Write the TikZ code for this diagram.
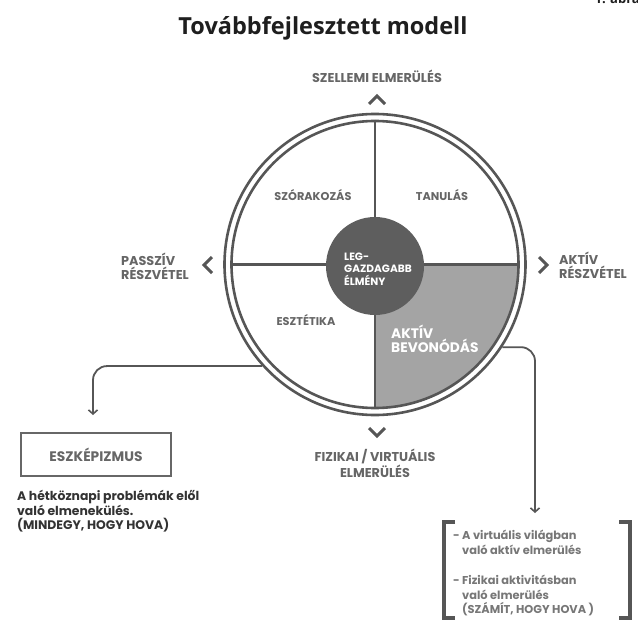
\documentclass[tikz,border=0pt]{standalone}
\usepackage{fontspec}
\setmainfont{Poppins}
\newfontfamily\titlefont{Open Sans}
\usetikzlibrary{arrows.meta}
\definecolor{lineg}{HTML}{565656}
\definecolor{labg}{HTML}{666666}
\definecolor{quadg}{HTML}{A4A4A4}
\definecolor{coreg}{HTML}{5E5E5E}
\definecolor{darkt}{HTML}{333333}
\definecolor{listg}{HTML}{777777}
\definecolor{titlec}{HTML}{1E1E1E}
\tikzset{
  ringline/.style={circle, draw=lineg, line width=2.6pt, inner sep=0pt},
  divline/.style={draw=lineg, line width=2.2pt},
  chev/.style={draw=lineg, line width=3pt, line join=miter},
  conn/.style={draw=lineg, line width=1.8pt, rounded corners=14pt,
    -{Straight Barb[length=4pt,width=9pt,line width=1.6pt]}},
  bracketl/.style={draw=lineg, line width=4pt, line join=miter},
  dirlab/.style={text=labg, font=\bfseries\fontsize{12.8}{14}\selectfont, inner sep=0pt},
  quadlab/.style={text=labg, font=\bfseries\fontsize{11.3}{13}\selectfont, inner sep=0pt},
}
\begin{document}
\begin{tikzpicture}[x=1pt,y=-1pt]
\useasboundingbox (0,0) rectangle (638,621);
\fill[white] (0,0) rectangle (638,621);

% title
\node[font=\titlefont\bfseries\fontsize{23.5}{26}\selectfont, text=titlec, inner sep=0pt] (title) at (323,28) {Továbbfejlesztett modell};
\node[font=\titlefont\bfseries\fontsize{13}{15}\selectfont, text=titlec, inner sep=0pt, anchor=base east] (fig) at (640,3) {1. ábra};

% quadrant fill
\fill[quadg] (375,265) -- ++(143.5,0) arc[start angle=0, end angle=-90, radius=143.5pt] -- cycle;

% rings
\node[ringline, minimum size=301pt] (outer) at (375,264.5) {};
\node[ringline, minimum size=287pt] (inner) at (375,264.5) {};
\draw[divline] (inner.north) -- (inner.south);
\draw[divline] (inner.west) -- (inner.east);

% core
\node[circle, fill=coreg, minimum size=98pt, inner sep=0pt] (core) at (375,266) {};
\node[text=white, font=\bfseries\fontsize{10.6}{12.3}\selectfont, align=left, inner sep=0pt, anchor=west] (coretext) at (344,269) {LEG-\\GAZDAGABB\\ÉLMÉNY};

% quadrant labels
\node[quadlab] (szor) at (313,195) {SZÓRAKOZÁS};
\node[quadlab] (tanul) at (442,195) {TANULÁS};
\node[quadlab] (eszt) at (306,320) {ESZTÉTIKA};
\node[text=white, font=\bfseries\fontsize{13.8}{14.5}\selectfont, align=left, inner sep=0pt, anchor=west] (aktbev) at (391,339) {AKTÍV\\BEVONÓDÁS};

% direction labels
\node[dirlab] (szell) at (377,76) {SZELLEMI ELMERÜLÉS};
\node[dirlab, align=left, anchor=west] (passz) at (121,266) {PASSZÍV\\RÉSZVÉTEL};
\node[dirlab, align=left, anchor=west] (aktiv) at (559,265) {AKTÍV\\RÉSZVÉTEL};
\node[dirlab, align=center, font=\bfseries\fontsize{12.8}{16}\selectfont] (fiz) at (375,463) {FIZIKAI / VIRTUÁLIS\\ELMERÜLÉS};

% chevrons
\draw[chev] (369,104) -- (377,96) -- (385,104);
\draw[chev] (212,257) -- (204,265) -- (212,273);
\draw[chev] (539,257) -- (547,265) -- (539,273);
\draw[chev] (369,428) -- (377,436) -- (385,428);

% left branch
\coordinate (escend) at (93,415);
\draw[conn] (outer.222.5) -| (escend);
\node[draw=lineg!90, line width=2.2pt, minimum width=150pt, minimum height=43pt, text=labg, font=\bfseries\fontsize{13.8}{15}\selectfont] (esc) at (96,454.5) {ESZKÉPIZMUS};
\node[text=darkt, font=\bfseries\fontsize{12.4}{14.5}\selectfont, align=left, inner sep=0pt, anchor=north west] (escdesc) at (17,490) {A hétköznapi problémák elől\\való elmenekülés.\\(MINDEGY, HOGY HOVA)};

% right branch
\coordinate (actend) at (535,513);
\draw[conn] (outer.-33) -| (actend);
\draw[bracketl] (455,522) -- (444,522) -- (444,618) -- (455,618);
\draw[bracketl] (619,522) -- (630,522) -- (630,618) -- (619,618);
\node[text=listg, font=\bfseries\fontsize{11.4}{14.8}\selectfont, align=left, inner sep=0pt, anchor=north west] (acttext) at (453,530) {- A virtuális világban\\\phantom{- }való aktív elmerülés\\[15pt]- Fizikai aktivitásban\\\phantom{- }való elmerülés\\\phantom{- }(SZÁMÍT, HOGY HOVA )};
\end{tikzpicture}
\end{document}
